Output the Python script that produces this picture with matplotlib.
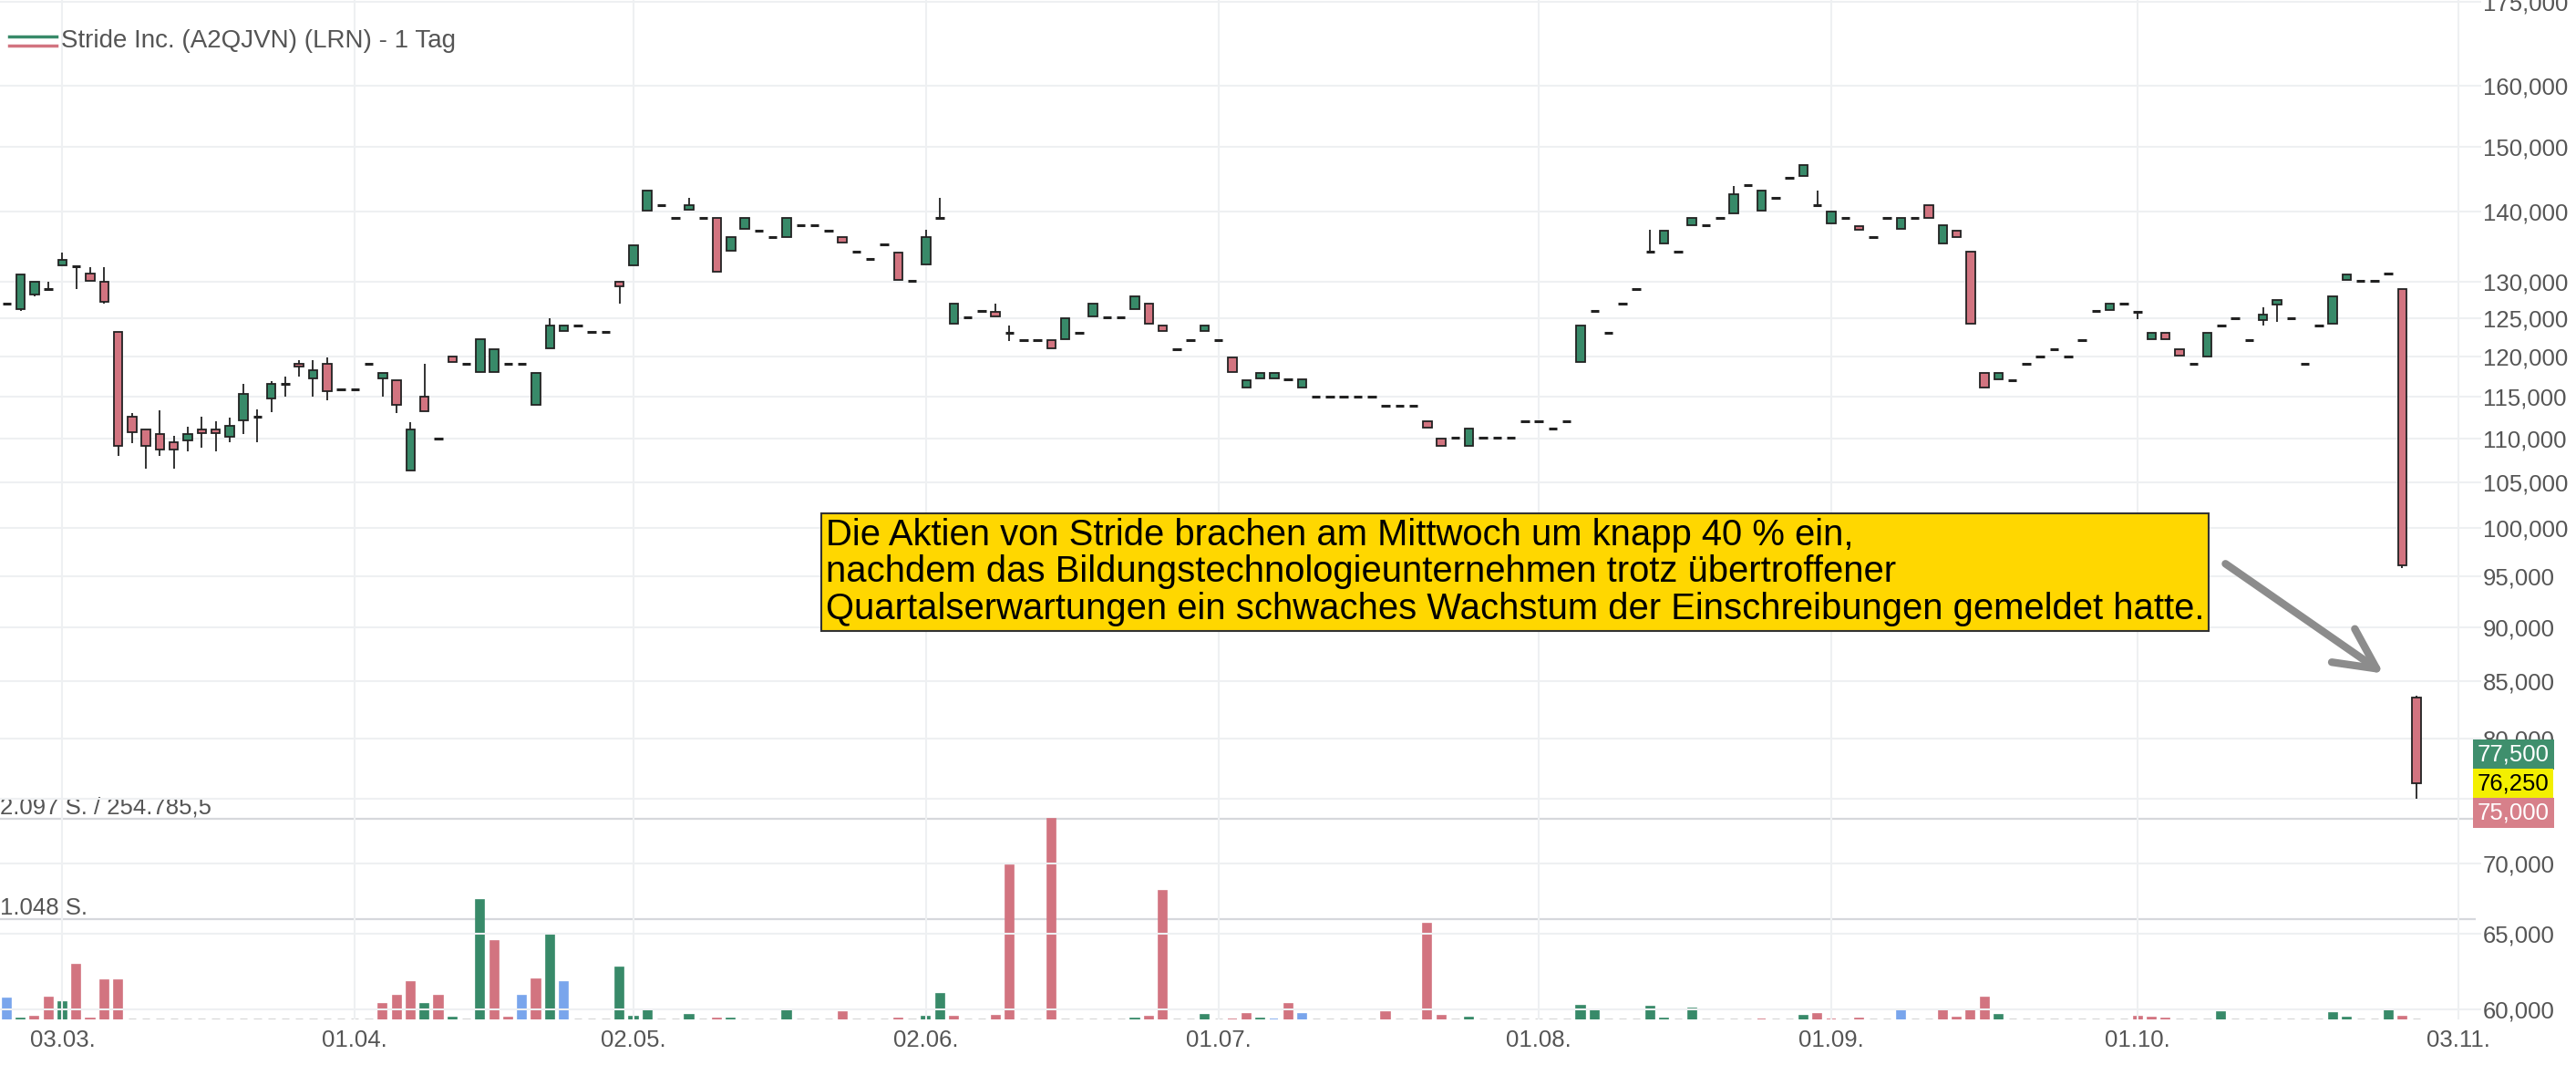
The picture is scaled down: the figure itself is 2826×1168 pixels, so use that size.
import matplotlib
matplotlib.use("Agg")
import matplotlib.pyplot as plt
from matplotlib.transforms import ScaledTranslation, blended_transform_factory
import numpy as np
import pandas as pd

plt.rcParams['font.family'] = ['Liberation Sans', 'DejaVu Sans']

# trading days (German exchange, no Good Friday / Easter Monday / 1 May)
holidays = ['2025-04-18', '2025-04-21', '2025-05-01']
days = pd.bdate_range('2025-02-25', '2025-11-03')
days = days[~days.isin(pd.to_datetime(holidays))]

# daily OHLC in EUR, 25.02.2025 - 29.10.2025
opens = [127.0, 126.2, 128.2, 129.0, 132.2, 132.1, 131.1, 130.0, 123.2, 112.6,
         111.1, 110.5, 109.6, 109.8, 111.1, 111.1, 110.2, 112.2, 112.6, 114.8,
         116.6, 119.1, 117.3, 119.1, 115.9, 115.9, 119.1, 117.3, 117.0, 106.3,
         115.0, 110.0, 120.0, 119.1, 118.1, 118.1, 119.1, 119.1, 114.0, 121.1,
         123.3, 124.1, 123.2, 123.2, 130.0, 132.2, 140.2, 140.9, 139.0, 140.3,
         139.0, 139.0, 134.3, 137.4, 137.2, 136.2, 136.3, 138.0, 138.0, 137.2,
         136.2, 134.2, 133.1, 135.2, 134.1, 130.1, 132.4, 139.0, 124.3, 125.1,
         126.0, 125.9, 123.1, 122.1, 122.1, 122.1, 122.3, 123.1, 125.2, 125.1,
         125.1, 126.2, 127.0, 124.0, 120.9, 122.1, 123.3, 122.1, 119.9, 116.1,
         117.3, 117.3, 117.1, 116.1, 115.0, 115.0, 115.0, 115.0, 115.0, 113.9,
         113.9, 113.9, 112.0, 110.0, 110.1, 109.2, 110.1, 110.1, 110.1, 112.0,
         112.0, 111.2, 112.0, 119.3, 126.0, 123.1, 127.0, 129.0, 134.2, 135.3,
         134.2, 138.0, 138.0, 139.0, 139.7, 144.0, 140.2, 142.1, 145.1, 145.4,
         141.0, 138.2, 139.0, 137.9, 136.2, 139.0, 137.4, 139.0, 140.9, 135.4,
         137.2, 134.2, 117.9, 117.2, 117.0, 119.1, 120.0, 120.9, 120.0, 122.1,
         126.0, 126.1, 127.0, 125.9, 122.3, 123.1, 120.9, 119.1, 120.0, 124.1,
         125.0, 122.1, 124.8, 126.8, 125.0, 119.1, 124.1, 124.3, 130.2, 130.1,
         130.1, 131.1, 128.9, 83.5]
highs = [127.0, 131.0, 130.0, 130.0, 134.0, 132.1, 132.0, 132.0, 123.2, 113.0,
         111.1, 113.4, 110.3, 111.4, 112.6, 112.0, 112.5, 116.6, 113.5, 116.9,
         117.5, 119.5, 119.5, 119.9, 115.9, 115.9, 119.1, 117.9, 117.0, 111.9,
         119.1, 110.0, 120.0, 119.1, 122.2, 120.9, 119.1, 119.1, 117.9, 125.0,
         124.0, 124.1, 123.2, 123.2, 130.0, 135.1, 143.2, 140.9, 139.0, 142.1,
         139.0, 139.0, 136.2, 139.0, 137.2, 136.2, 139.0, 138.0, 138.0, 137.2,
         136.2, 134.2, 133.1, 135.2, 134.1, 130.1, 137.3, 142.1, 127.0, 125.1,
         126.0, 127.0, 124.0, 122.1, 122.1, 122.1, 125.0, 123.1, 127.0, 125.1,
         125.1, 128.0, 127.0, 124.0, 120.9, 122.1, 124.0, 122.1, 119.9, 117.0,
         117.9, 117.9, 117.1, 117.1, 115.0, 115.0, 115.0, 115.0, 115.0, 113.9,
         113.9, 113.9, 112.0, 110.0, 110.1, 111.2, 110.1, 110.1, 110.1, 112.0,
         112.0, 111.2, 112.0, 124.0, 126.0, 123.1, 127.0, 129.0, 137.3, 137.2,
         134.2, 139.0, 138.0, 139.0, 143.8, 144.0, 143.2, 142.1, 145.1, 147.1,
         143.2, 140.0, 139.0, 137.9, 136.2, 139.0, 139.0, 139.0, 140.9, 138.0,
         137.2, 134.2, 117.9, 117.9, 117.0, 119.1, 120.0, 120.9, 120.0, 122.1,
         126.0, 127.0, 127.0, 125.9, 123.1, 123.1, 120.9, 119.1, 123.1, 124.1,
         125.0, 122.1, 126.5, 127.5, 125.0, 119.1, 124.1, 128.0, 131.0, 130.1,
         130.1, 131.1, 129.0, 83.7]
lows = [127.0, 126.0, 128.0, 129.0, 132.2, 129.0, 130.1, 127.0, 108.0, 109.5,
        106.5, 108.0, 106.5, 108.5, 108.9, 108.5, 109.6, 110.5, 109.6, 113.1,
        115.0, 117.5, 115.0, 114.6, 115.9, 115.9, 119.1, 115.0, 113.0, 106.3,
        113.2, 110.0, 119.3, 119.1, 118.1, 118.1, 119.1, 119.1, 114.0, 121.1,
        123.3, 124.1, 123.2, 123.2, 127.0, 132.2, 140.2, 140.9, 139.0, 140.3,
        139.0, 131.3, 134.3, 137.4, 137.2, 136.2, 136.3, 138.0, 138.0, 137.2,
        135.5, 134.2, 133.1, 135.2, 130.2, 130.1, 132.4, 139.0, 124.3, 125.1,
        126.0, 125.2, 122.0, 122.1, 122.1, 121.1, 122.3, 123.1, 125.2, 125.1,
        125.1, 126.2, 124.3, 123.3, 120.9, 122.1, 123.3, 122.1, 118.1, 116.1,
        117.3, 117.3, 117.1, 116.1, 115.0, 115.0, 115.0, 115.0, 115.0, 113.9,
        113.9, 113.9, 111.3, 109.2, 110.1, 109.2, 110.1, 110.1, 110.1, 112.0,
        112.0, 111.2, 112.0, 119.3, 126.0, 123.1, 127.0, 129.0, 134.2, 135.3,
        134.2, 138.0, 138.0, 139.0, 139.7, 144.0, 140.2, 142.1, 145.1, 145.4,
        141.0, 138.2, 139.0, 137.3, 136.2, 139.0, 137.4, 139.0, 139.1, 135.4,
        136.3, 124.3, 116.1, 117.2, 117.0, 119.1, 120.0, 120.9, 120.0, 122.1,
        126.0, 126.1, 127.0, 124.9, 122.3, 122.3, 120.1, 119.1, 120.0, 124.1,
        125.0, 122.1, 124.0, 124.5, 125.0, 119.1, 124.1, 124.3, 130.2, 130.1,
        130.1, 131.1, 95.9, 75.0]
closes = [127.0, 131.0, 130.0, 129.0, 133.0, 132.1, 130.1, 127.2, 109.1, 110.7,
          109.1, 108.7, 108.7, 110.5, 110.6, 110.6, 111.5, 115.4, 112.6, 116.6,
          116.6, 118.7, 118.3, 115.7, 115.9, 115.9, 119.1, 117.9, 114.0, 111.1,
          113.2, 110.0, 119.3, 119.1, 122.2, 120.9, 119.1, 119.1, 117.9, 124.0,
          124.0, 124.1, 123.2, 123.2, 129.3, 135.1, 143.2, 140.9, 139.0, 140.9,
          139.0, 131.3, 136.2, 139.0, 137.2, 136.2, 139.0, 138.0, 138.0, 137.2,
          135.5, 134.2, 133.1, 135.2, 130.2, 130.1, 136.2, 139.0, 127.0, 125.1,
          126.0, 125.2, 123.1, 122.1, 122.1, 121.1, 125.0, 123.1, 127.0, 125.1,
          125.1, 128.0, 124.3, 123.3, 120.9, 122.1, 124.0, 122.1, 118.1, 117.0,
          117.9, 117.9, 117.1, 117.1, 115.0, 115.0, 115.0, 115.0, 115.0, 113.9,
          113.9, 113.9, 111.3, 109.2, 110.1, 111.2, 110.1, 110.1, 110.1, 112.0,
          112.0, 111.2, 112.0, 124.0, 126.0, 123.1, 127.0, 129.0, 134.2, 137.2,
          134.2, 139.0, 138.0, 139.0, 142.6, 144.0, 143.2, 142.1, 145.1, 147.1,
          141.0, 140.0, 139.0, 137.3, 136.2, 139.0, 139.0, 139.0, 139.1, 138.0,
          136.3, 124.3, 116.1, 117.9, 117.0, 119.1, 120.0, 120.9, 120.0, 122.1,
          126.0, 127.0, 127.0, 125.9, 123.1, 122.3, 120.1, 119.1, 123.1, 124.1,
          125.0, 122.1, 125.5, 127.5, 125.0, 119.1, 124.1, 128.0, 131.0, 130.1,
          130.1, 131.1, 96.1, 76.25]
# traded shares per day (Stück)
volume = [222, 8, 27, 225, 181, 568, 10, 410, 410, 0,
          0, 0, 0, 0, 0, 0, 0, 0, 0, 0,
          0, 0, 0, 0, 0, 0, 0, 164, 250, 393,
          157, 243, 20, 0, 1242, 821, 17, 243, 414, 893,
          393, 0, 0, 0, 540, 27, 96, 0, 0, 44,
          0, 10, 10, 0, 0, 0, 96, 0, 0, 0,
          79, 0, 0, 0, 7, 0, 27, 267, 27, 0,
          0, 38, 1608, 0, 0, 2097, 0, 0, 0, 0,
          0, 10, 27, 1345, 0, 0, 44, 0, 3, 60,
          13, 3, 163, 60, 0, 0, 0, 0, 0, 79,
          0, 0, 997, 38, 0, 22, 0, 0, 0, 0,
          0, 0, 0, 138, 104, 0, 0, 0, 135, 13,
          0, 116, 0, 0, 0, 0, 3, 0, 0, 38,
          53, 3, 0, 13, 0, 0, 100, 0, 0, 94,
          22, 94, 226, 44, 0, 0, 0, 0, 0, 0,
          0, 0, 0, 25, 19, 10, 0, 0, 0, 79,
          0, 0, 0, 0, 0, 0, 0, 63, 22, 0,
          0, 107, 31, 0]

vol_max = 2097
vol_max_eur = "254.785,5"
tick_dates = ['2025-03-03', '2025-04-01', '2025-05-02', '2025-06-02', '2025-07-01',
              '2025-08-01', '2025-09-01', '2025-10-01', '2025-11-03']
price_ticks = [60, 65, 70, 75, 80, 85, 90, 95, 100, 105, 110, 115, 120, 125,
               130, 140, 150, 160, 175]
quote_labels = [77.5, 76.25, 75.0]   # ask / last / bid

note = ("Die Aktien von Stride brachen am Mittwoch um knapp 40 % ein,\n"
        "nachdem das Bildungstechnologieunternehmen trotz übertroffener\n"
        "Quartalserwartungen ein schwaches Wachstum der Einschreibungen gemeldet hatte.")

green = '#388a69'
red = '#d27480'
blue = '#79a5ec'
ink = '#222222'
txt = '#555555'
gridc = '#eef0f2'

def fmt(v, dec=3):
    return f"{v:,.{dec}f}".replace(',', 'X').replace('.', ',').replace('X', '.')

o, h, l, c = (np.array(a) for a in (opens, highs, lows, closes))
vol = np.array(volume, dtype=float)
x = np.arange(len(o))

fig = plt.figure(figsize=(28.26, 11.68), dpi=100)
ax = fig.add_axes([0, 50 / 1168, 2716 / 2826, 1118 / 1168])
vax = ax.twinx()
ax.set_zorder(vax.get_zorder() + 1)
ax.patch.set_visible(False)

# ---- volume ----
chg = np.diff(c, prepend=c[0])
vcol = np.where(chg > 0.01, green, np.where(chg < -0.01, red, blue))
has = vol > 0
vax.bar(x[has], vol[has], width=0.6, color=vcol[has], edgecolor=vcol[has], lw=1.2, zorder=2)
vax.hlines(np.zeros((~has).sum()), x[~has] - 0.27, x[~has] + 0.27, color='#cfcfcf', lw=2, zorder=2)
vax.set_ylim(0, vol_max * 1118 / 220.4)
for lev in (vol_max, vol_max // 2):
    vax.axhline(lev, color='#d6d8dc', lw=1.6, zorder=1)
bt = blended_transform_factory(vax.transAxes, vax.transData)
vax.text(0.0, vol_max, f"{fmt(vol_max, 0)} S. / {vol_max_eur}", transform=bt,
         ha='left', va='bottom', fontsize=18.5, color=txt)
vax.text(0.0, vol_max // 2, f"{fmt(vol_max // 2, 0)} S.", transform=bt,
         ha='left', va='bottom', fontsize=18.5, color=txt)
vax.set_yticks([])
for s in vax.spines.values():
    s.set_visible(False)

# ---- candles ----
w = 0.62
ax.vlines(x, l, h, color=ink, lw=1.3, zorder=3)
up, dn, fl = c > o, c < o, c == o
ax.bar(x[up], (c - o)[up], bottom=o[up], width=w, color=green, edgecolor=ink, lw=1.3, zorder=4)
ax.bar(x[dn], (o - c)[dn], bottom=c[dn], width=w, color=red, edgecolor=ink, lw=1.3, zorder=4)
ax.hlines(c[fl], x[fl] - w / 2, x[fl] + w / 2, color=ink, lw=2.2, zorder=4)

ax.set_yscale('log')
ax.set_ylim(59.34, 175.3)
ax.set_xlim(-0.48, 2716 / 15.28 - 0.48)
ax.yaxis.tick_right()
ax.set_yticks(price_ticks)
ax.set_yticks([], minor=True)
ax.set_yticklabels([fmt(v) for v in price_ticks])
xt = [days.get_loc(pd.Timestamp(d)) for d in tick_dates]
ax.set_xticks(xt)
ax.set_xticklabels([pd.Timestamp(d).strftime('%d.%m.') for d in tick_dates])
for lbl in ax.get_xticklabels():
    lbl.set_transform(lbl.get_transform() + ScaledTranslation(0.11, 0, fig.dpi_scale_trans))
ax.grid(True, color=gridc, lw=1.5, zorder=0)
ax.tick_params(axis='y', length=4, color=gridc, width=1.5, pad=1.5, labelsize=18.5, labelcolor=txt)
ax.tick_params(axis='x', length=0, pad=8, labelsize=18.5, labelcolor=txt)
for s in ax.spines.values():
    s.set_visible(False)

# legend
ax.plot([0.0035, 0.023], [0.9642, 0.9642], transform=ax.transAxes, color=green, lw=2.5, clip_on=False)
ax.plot([0.0035, 0.023], [0.9553, 0.9553], transform=ax.transAxes, color=red, lw=2.5, clip_on=False)
ax.text(0.0245, 0.9597, "Stride Inc. (A2QJVN) (LRN) - 1 Tag", transform=ax.transAxes,
        ha='left', va='center', fontsize=20, color=txt)

# note box + arrow
ax.text(906 / 2716, 1 - 568 / 1118, note, transform=ax.transAxes, ha='left', va='top',
        fontsize=28.8, linespacing=1.08, color='black', zorder=6,
        bbox=dict(boxstyle='square,pad=0.12', fc='#ffd700', ec='#333333', lw=1.5))
ax.annotate('', xy=(170.65, 85.7), xytext=(159.3, 96.3), zorder=6,
            arrowprops=dict(arrowstyle='->,head_length=1.6,head_width=0.8', lw=6,
                            color='#8c8c8c', mutation_scale=20, capstyle='round',
                            joinstyle='round', shrinkA=0, shrinkB=0))

# price tags on the right axis
tag_style = [('#3f8f6d', 'white', 23), ('#f3ef00', 'black', 0), ('#d7808a', 'white', -23.5)]
tb = blended_transform_factory(ax.transAxes, ax.transData)
for val, (bg, fg, dy) in zip(quote_labels, tag_style):
    ax.annotate(fmt(val), xy=(1.0, c[-1]), xycoords=tb, xytext=(1.5, dy),
                textcoords='offset points', ha='left', va='center', fontsize=18.5,
                color=fg, annotation_clip=False, zorder=10,
                bbox=dict(boxstyle='square,pad=0.18', fc=bg, ec='none'))

fig.savefig('out.png', dpi=100)
